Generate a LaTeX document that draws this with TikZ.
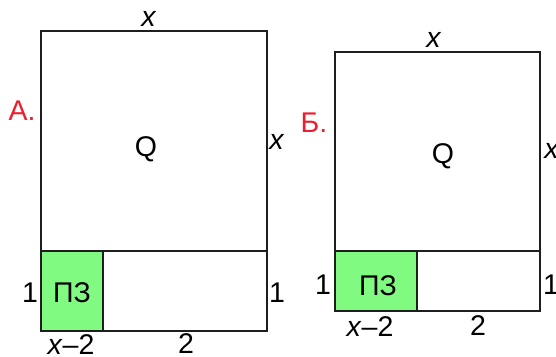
\documentclass[tikz,border=0pt]{standalone}
\usepackage{fontspec}
\setmainfont{Liberation Sans}
\definecolor{lblred}{RGB}{235,30,45}
\definecolor{pzgreen}{RGB}{128,250,128}
\definecolor{edge}{RGB}{30,30,30}
\begin{document}
\begin{tikzpicture}[x=1pt,y=-1pt,
  box/.style={draw=edge,line width=1.8pt},
  lbl/.style={inner sep=0pt,font=\fontsize{28.5}{30}\selectfont},
  redlbl/.style={lbl,text=lblred}]
\useasboundingbox (0,0) rectangle (556,356);
% A
\fill[pzgreen] (41,251) rectangle (103,331);
\draw[box] (41,31) rectangle (267,331);
\draw[box] (41,251) -- (267,251);
\draw[box] (103,251) -- (103,331);
\node[lbl] (atop) at (149,19) {\textit{x}};
\node[redlbl] (alab) at (22,111) {А.};
\node[lbl] (aq) at (146,149) {Q};
\node[lbl] (aright) at (277,142) {\textit{x}};
\node[lbl] (aone) at (30,293) {1};
\node[lbl] (apz) at (72,293) {ПЗ};
\node[lbl] (aoner) at (277,293) {1};
\node[lbl] (axm) at (71,345) {\textit{x}–2};
\node[lbl] (atwo) at (186,344) {2};
% B
\fill[pzgreen] (335,251) rectangle (417,311);
\draw[box] (335,52) rectangle (540,311);
\draw[box] (335,251) -- (540,251);
\draw[box] (417,251) -- (417,311);
\node[lbl] (btop) at (434,40) {\textit{x}};
\node[redlbl] (blab) at (314,123) {Б.};
\node[lbl] (bq) at (443,156) {Q};
\node[lbl] (bright) at (552,151) {\textit{x}};
\node[lbl] (bone) at (323,285) {1};
\node[lbl] (bpz) at (378,286) {ПЗ};
\node[lbl] (boner) at (551,285) {1};
\node[lbl] (bxm) at (370,327) {\textit{x}–2};
\node[lbl] (btwo) at (478,326) {2};
\end{tikzpicture}
\end{document}
